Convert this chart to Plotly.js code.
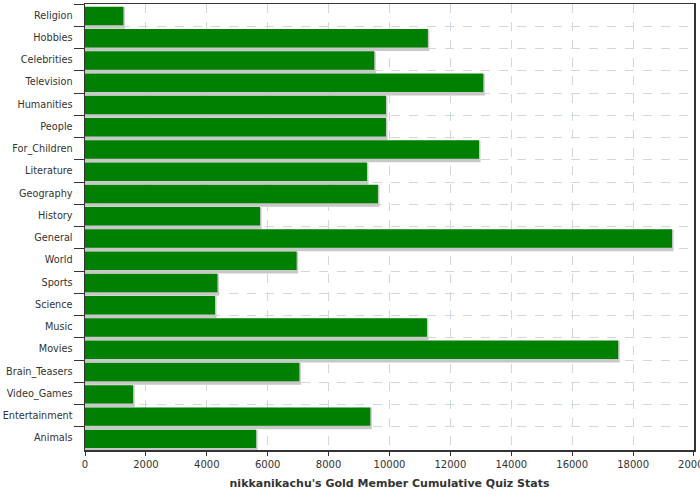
<!DOCTYPE html>
<html>
<head>
<meta charset="utf-8">
<script src="https://cdn.plot.ly/plotly-3.0.1.min.js"></script>
<style>html,body{margin:0;padding:0;background:#fff;}#chart{width:700px;height:500px;}</style>
</head>
<body>
<div id="chart"></div>
<script>
const categories = ["Religion","Hobbies","Celebrities","Television","Humanities","People","For_Children","Literature","Geography","History","General","World","Sports","Science","Music","Movies","Brain_Teasers","Video_Games","Entertainment","Animals"];
const values = [1260, 11260, 9500, 13080, 9885, 9885, 12940, 9260, 9620, 5750, 19280, 6950, 4350, 4270, 11230, 17510, 7040, 1580, 9370, 5620];
const xTickValues = [0,2000,4000,6000,8000,10000,12000,14000,16000,18000,20000];
const xTitle = "nikkanikachu's Gold Member Cumulative Quiz Stats";

const shadow = {
  type: 'bar', orientation: 'h', x: values, y: categories,
  width: 0.83, offset: -0.29,
  marker: {color: '#c8c8c8', line: {color: '#c8c8c8', width: 3}},
  hoverinfo: 'skip', showlegend: false
};
const bars = {
  type: 'bar', orientation: 'h', x: values, y: categories,
  width: 0.83, offset: -0.375,
  marker: {color: '#008000', line: {width: 0}},
  showlegend: false
};
const layout = {
  width: 700, height: 500,
  margin: {l: 85, r: 6, t: 4, b: 50},
  paper_bgcolor: '#ffffff', plot_bgcolor: '#ffffff',
  barmode: 'overlay',
  font: {family: 'DejaVu Sans', size: 10, color: '#333333'},
  xaxis: {
    range: [0, 20000.5], tickmode: 'array', tickvals: xTickValues, ticktext: xTickValues.map(String),
    ticklabeloverflow: 'allow',
    showgrid: true, gridcolor: '#d0d8de', griddash: 'dash', gridwidth: 1,
    zeroline: false, showline: true, linecolor: '#333333', linewidth: 1.5, mirror: true,
    ticks: 'outside', ticklen: 4, tickcolor: '#333333',
    tickfont: {family: 'DejaVu Sans', size: 10, color: '#333333'},
    title: {text: xTitle, font: {family: 'DejaVu Sans', size: 11, color: '#333333', weight: 'bold'}, standoff: 11}
  },
  yaxis: {
    type: 'category', autorange: 'reversed',
    tickson: 'boundaries', ticks: 'outside', ticklen: 10, tickcolor: '#333333',
    ticklabelstandoff: 9,
    showgrid: true, gridcolor: '#d0d8de', griddash: 'dash', gridwidth: 1,
    showline: true, linecolor: '#333333', linewidth: 1.5, mirror: true,
    tickfont: {family: 'DejaVu Sans', size: 9.7, color: '#333333'}
  }
};
Plotly.newPlot('chart', [shadow, bars], layout, {displayModeBar: false, staticPlot: true});
</script>
</body>
</html>
